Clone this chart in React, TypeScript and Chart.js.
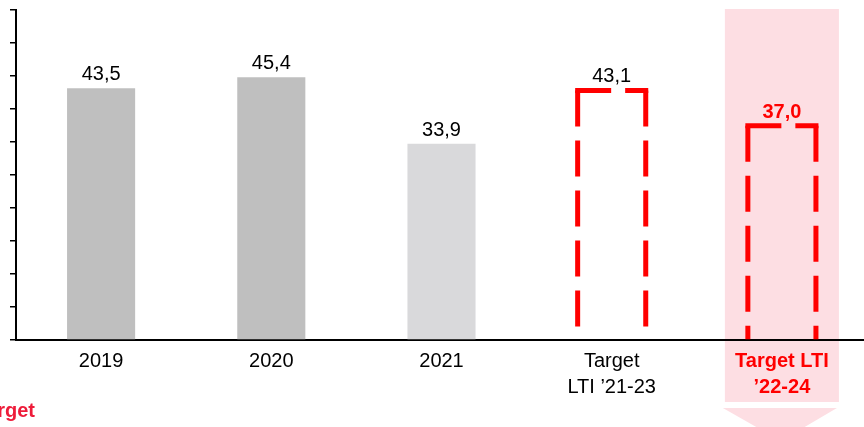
import React, { useEffect, useRef } from 'react';
import { Chart, registerables } from 'chart.js';

Chart.register(...registerables);

const categories: (string | string[])[] = ['2019', '2020', '2021', ['Target', 'LTI ’21-23'], ['Target LTI', '’22-24']];
const actualValues: (number | null)[] = [43.5, 45.4, 33.9, null, null];
const targetValues: (number | null)[] = [null, null, null, 43.1, 37.0];
const valueLabels: string[] = ['43,5', '45,4', '33,9', '43,1', '37,0'];
const actualColors: string[] = ['#BFBFBF', '#BFBFBF', '#D9D9DB', '#BFBFBF', '#BFBFBF'];
const highlightIndex = 4;
const yMax = 57;
const yTickCount = 11;

const RED = '#FF0000';
const FONT = '"Liberation Sans", Arial, sans-serif';

const overlayPlugin = {
  id: 'overlay',
  beforeDraw(chart: any) {
    const { ctx, chartArea, scales } = chart;
    const x = scales.x;
    const cx = x.getPixelForValue(highlightIndex);
    const catW = x.width / categories.length;
    const w = catW * 0.67;
    ctx.save();
    ctx.fillStyle = '#FDDEE3';
    const top = chartArea.top - 1;
    ctx.fillRect(cx - w / 2, top, w, 402 - top);
    ctx.beginPath();
    ctx.moveTo(cx - w / 2 - 2, 408);
    ctx.lineTo(cx + w / 2 - 2, 408);
    ctx.lineTo(cx - 1, 441);
    ctx.closePath();
    ctx.fill();
    ctx.restore();
  },
  afterDatasetsDraw(chart: any) {
    const { ctx } = chart;
    ctx.save();
    const tMeta = chart.getDatasetMeta(1);
    tMeta.data.forEach((bar: any, i: number) => {
      if (targetValues[i] == null) return;
      const p = bar.getProps(['x', 'y', 'width', 'base'], true);
      const l = p.x - p.width / 2;
      const r = p.x + p.width / 2;
      const lw = 5;
      ctx.strokeStyle = RED;
      ctx.lineWidth = lw;
      ctx.lineCap = 'butt';
      ctx.setLineDash([36, 14]);
      ctx.beginPath();
      ctx.moveTo(l - lw / 2, p.y);
      ctx.lineTo(r + lw / 2, p.y);
      ctx.stroke();
      ctx.beginPath();
      ctx.moveTo(l, p.y);
      ctx.lineTo(l, p.base);
      ctx.stroke();
      ctx.beginPath();
      ctx.moveTo(r, p.y);
      ctx.lineTo(r, p.base);
      ctx.stroke();
    });
    ctx.setLineDash([]);
    ctx.textAlign = 'center';
    ctx.textBaseline = 'alphabetic';
    [0, 1].forEach((di) => {
      const meta = chart.getDatasetMeta(di);
      const vals = di === 0 ? actualValues : targetValues;
      meta.data.forEach((bar: any, i: number) => {
        if (vals[i] == null) return;
        const p = bar.getProps(['x', 'y'], true);
        const hl = i === highlightIndex;
        ctx.fillStyle = hl ? RED : '#000000';
        ctx.font = `${hl ? 'bold ' : ''}20px ${FONT}`;
        ctx.fillText(valueLabels[i], p.x, p.y - 8);
      });
    });
    ctx.restore();
  },
  afterDraw(chart: any) {
    const { ctx } = chart;
    ctx.save();
    ctx.fillStyle = '#EE1C3A';
    ctx.font = `bold 20px ${FONT}`;
    ctx.textAlign = 'right';
    ctx.textBaseline = 'alphabetic';
    ctx.fillText('Target', 35, 417);
    ctx.restore();
  },
};

export default function App() {
  const ref = useRef<HTMLCanvasElement>(null);
  useEffect(() => {
    if (!ref.current) return;
    const chart = new Chart(ref.current, {
      type: 'bar',
      data: {
        labels: categories as any,
        datasets: [
          {
            data: actualValues as any,
            backgroundColor: actualColors,
            borderWidth: 0,
            grouped: false,
            categoryPercentage: 0.8,
            barPercentage: 0.5,
          } as any,
          {
            data: targetValues as any,
            backgroundColor: 'rgba(0,0,0,0)',
            borderWidth: 0,
            grouped: false,
            categoryPercentage: 0.8,
            barPercentage: 0.5,
          } as any,
        ],
      },
      options: {
        responsive: false,
        animation: false,
        layout: { padding: { left: 10, top: 10, right: 13, bottom: 19 } },
        plugins: { legend: { display: false }, tooltip: { enabled: false } },
        scales: {
          x: {
            grid: { display: true, drawOnChartArea: false, drawTicks: false },
            border: { display: true, color: '#000000', width: 2 },
            ticks: {
              padding: 8,
              maxRotation: 0,
              autoSkip: false,
              color: (c: any) => (c.index === highlightIndex ? RED : '#000000'),
              font: (c: any) => ({
                family: FONT,
                size: 20,
                weight: c.index === highlightIndex ? 'bold' : 'normal',
                lineHeight: 1.3,
              }),
            },
          },
          y: {
            min: 0,
            max: yMax,
            ticks: { display: false, count: yTickCount },
            grid: { display: true, drawOnChartArea: false, drawTicks: true, tickLength: 6, color: '#000000', lineWidth: 1.5 },
            border: { display: true, color: '#000000', width: 2 },
          },
        },
      },
      plugins: [overlayPlugin],
    } as any);
    return () => chart.destroy();
  }, []);
  return (
    <div style={{ position: 'fixed', left: 0, top: 0, width: 864, height: 427, overflow: 'hidden', background: '#fff' }}>
      <canvas ref={ref} width={880} height={427} style={{ display: 'block' }} />
    </div>
  );
}
